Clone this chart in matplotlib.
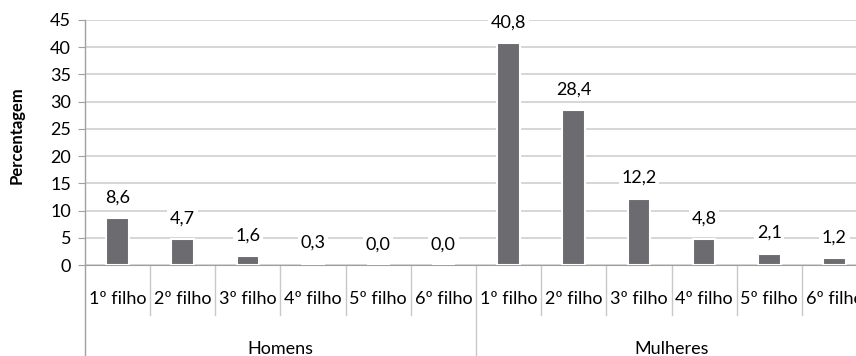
import matplotlib
matplotlib.use("Agg")
import matplotlib.pyplot as plt
import matplotlib.transforms as mtransforms

plt.rcParams['font.family'] = ['Lato', 'DejaVu Sans']

categories = ["1º filho", "2º filho", "3º filho", "4º filho", "5º filho", "6º filho"]
groups = ["Homens", "Mulheres"]
homens = [8.6, 4.7, 1.6, 0.3, 0.0, 0.0]
mulheres = [40.8, 28.4, 12.2, 4.8, 2.1, 1.2]
yticks = [0, 5, 10, 15, 20, 25, 30, 35, 40, 45]

values = homens + mulheres
labels = categories + categories
n = len(values)
x = list(range(n))

FS = 13

fig = plt.figure(figsize=(8.56, 3.56), dpi=100)
ax = fig.add_axes([85/856, 1-265/356, 782/856, 245/356])

bar_color = "#6b6b70"
ax.bar(x, values, width=0.35, color=bar_color, edgecolor="white", linewidth=1.5, zorder=3)

ax.set_xlim(-0.5, n - 0.5)
ax.set_ylim(0, 45)
ax.set_yticks(yticks)
ax.set_yticklabels([str(t) for t in yticks], fontsize=FS)
ax.tick_params(axis='y', length=5, color="#a0a0a0", pad=5)
ax.set_xticks([])
ax.yaxis.grid(True, color="#d0d0d0", linewidth=1.2, zorder=0)
ax.set_axisbelow(True)
for s in ["top", "right"]:
    ax.spines[s].set_visible(False)
ax.spines["left"].set_visible(False)
ax.spines["bottom"].set_color("#a0a0a0")

ax.set_ylabel("Percentagem", fontsize=12, fontweight="bold")
ax.yaxis.set_label_coords(-0.077, 0.53)

for xi, v in zip(x, values):
    ax.annotate(f"{v:.1f}".replace(".", ","), (xi, v), xytext=(0, 9), textcoords="offset points",
                ha="center", va="bottom", fontsize=FS, zorder=4,
                bbox=dict(boxstyle="square,pad=0.15", fc="white", ec="none"))

trans = mtransforms.blended_transform_factory(ax.transData, ax.transAxes)
px = 1 / 245.0  # axes fraction per pixel vertically
# category labels
for xi, lab in zip(x, labels):
    ax.text(xi, -34 * px, lab, transform=trans, ha="center", va="center", fontsize=FS, clip_on=False)
# category separators
for b in range(1, n):
    if b == 6:
        continue
    ax.plot([b - 0.5, b - 0.5], [0, -50 * px], transform=trans, color="#c8c8c8", lw=1, clip_on=False)
# group separators and y axis line
ax.plot([-0.5, -0.5], [-95 * px, 1.0], transform=trans, color="#a0a0a0", lw=1, clip_on=False)
ax.plot([5.5, 5.5], [-95 * px, 0], transform=trans, color="#c8c8c8", lw=1, clip_on=False)
# group labels
for gi, g in enumerate(groups):
    ax.text(gi * 6 + 2.5, -84 * px, g, transform=trans, ha="center", va="center", fontsize=FS, clip_on=False)

fig.savefig("out.png", dpi=100)
